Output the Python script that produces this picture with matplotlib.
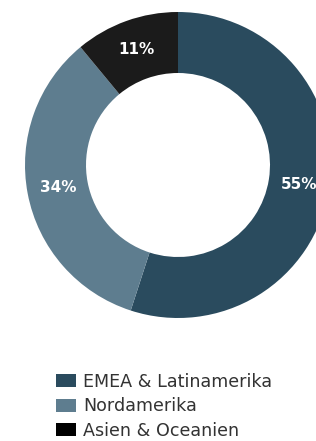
import matplotlib.pyplot as plt
from matplotlib.patches import Patch

regions = ["EMEA & Latinamerika", "Nordamerika", "Asien & Oceanien"]
shares = [55, 34, 11]
colors = ["#2a4b5e", "#5e7d8f", "#1b1b1b"]
legend_colors = ["#2a4b5e", "#5e7d8f", "#000000"]

fig = plt.figure(figsize=(3.16, 4.41), dpi=100)
ax = fig.add_axes([0, 0, 1, 1])

wedges, texts, autotexts = ax.pie(
    shares, colors=colors, center=(178, 276), radius=153,
    startangle=90, counterclock=False,
    wedgeprops=dict(width=61, edgecolor="none"),
    autopct=lambda p: f"{p:.0f}%", pctdistance=0.8,
    textprops=dict(color="white", fontsize=11, fontweight="bold"),
)
ax.set_xlim(0, 316)
ax.set_ylim(0, 441)
ax.set_aspect("equal")
ax.axis("off")

handles = [Patch(facecolor=c, edgecolor="none") for c in legend_colors]
fig.legend(handles, regions, loc="upper left", bbox_to_anchor=(56 / 316, 1 - 373 / 441),
           frameon=False, fontsize=12.6, handlelength=1.15, handleheight=0.75,
           handletextpad=0.42, labelspacing=0.37, borderpad=0, borderaxespad=0,
           labelcolor="#333333")

fig.savefig("out.png", dpi=100)
